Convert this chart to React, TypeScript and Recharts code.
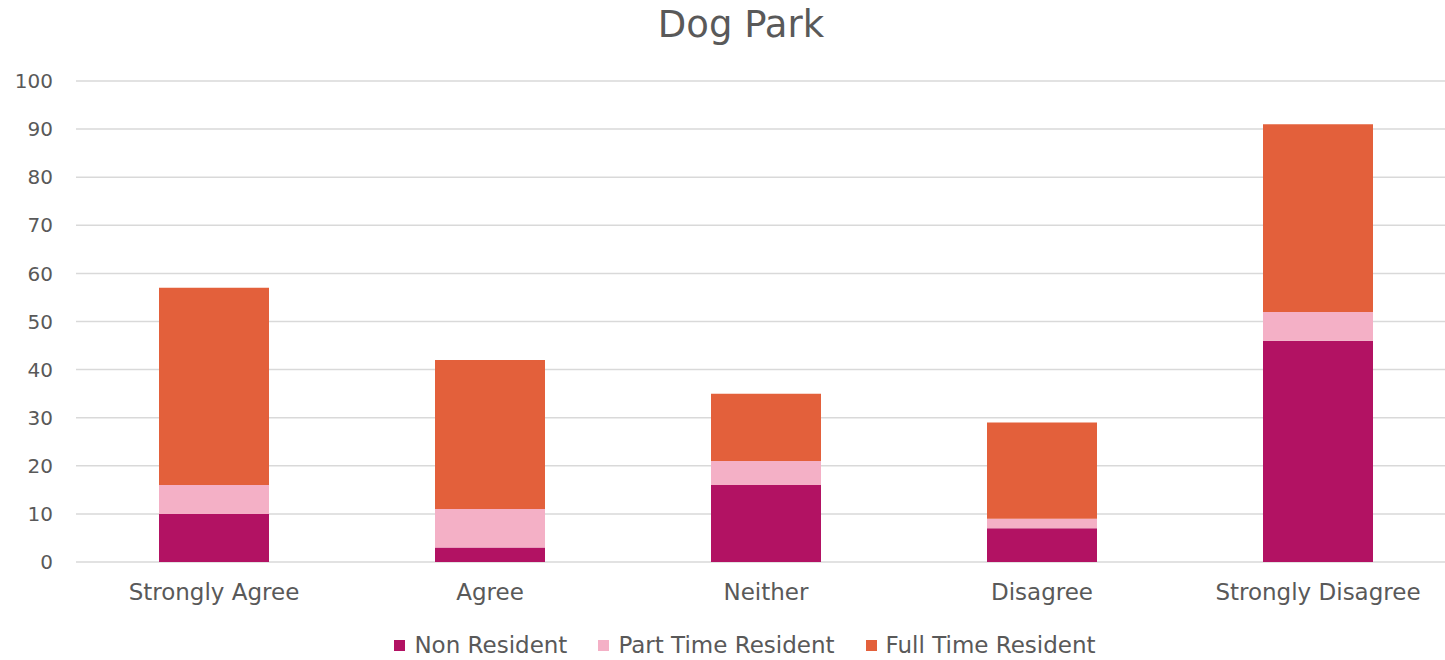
import { BarChart, Bar, XAxis, YAxis, CartesianGrid, Legend } from "recharts";

const categories = ["Strongly Agree", "Agree", "Neither", "Disagree", "Strongly Disagree"];
const nonResident = [10, 3, 16, 7, 46];
const partTime = [6, 8, 5, 2, 6];
const fullTime = [41, 31, 14, 20, 39];
const yTicks = [0, 10, 20, 30, 40, 50, 60, 70, 80, 90, 100];

const series = [
  { key: "nonResident", name: "Non Resident", color: "#B21263" },
  { key: "partTime", name: "Part Time Resident", color: "#F4B0C6" },
  { key: "fullTime", name: "Full Time Resident", color: "#E3603B" },
];

const data = categories.map((c, i) => ({
  category: c,
  nonResident: nonResident[i],
  partTime: partTime[i],
  fullTime: fullTime[i],
}));

const FONT = "'DejaVu Sans', sans-serif";
const TEXT = "#595959";

function LegendRow() {
  return (
    <div style={{ display: "flex", justifyContent: "center", gap: 31, fontFamily: FONT, fontSize: 23, color: TEXT, lineHeight: "26px" }}>
      {series.map((s) => (
        <div key={s.key} style={{ display: "flex", alignItems: "center" }}>
          <span style={{ width: 11, height: 11, background: s.color, display: "inline-block", marginRight: 9 }} />
          <span>{s.name}</span>
        </div>
      ))}
    </div>
  );
}

export default function App() {
  return (
    <div style={{ position: "fixed", left: 0, top: 0, width: 1445, height: 660, overflow: "hidden", background: "#fff" }}>
      <div
        style={{
          position: "absolute", top: 3, left: 0, width: 1482, textAlign: "center",
          fontFamily: FONT, fontSize: 37, color: TEXT,
        }}
      >
        Dog Park
      </div>
      <BarChart width={1460} height={660} data={data} margin={{ top: 81, right: 4, left: 16, bottom: 68 }}>
        <CartesianGrid vertical={false} stroke="#D9D9D9" strokeWidth={1.5} />
        <XAxis
          dataKey="category"
          axisLine={false}
          tickLine={false}
          tickSize={0}
          tickMargin={22}
          tick={{ fill: TEXT, fontSize: 23, fontFamily: FONT }}
        />
        <YAxis
          width={60}
          domain={[0, 100]}
          ticks={yTicks}
          axisLine={false}
          tickLine={false}
          tickSize={0}
          tickMargin={23}
          tick={{ fill: TEXT, fontSize: 20, fontFamily: FONT }}
        />
        <Legend
          layout="horizontal"
          verticalAlign="middle"
          align="center"
          wrapperStyle={{ top: 632, left: 0, width: 1490 }}
          content={() => <LegendRow />}
        />
        {series.map((s) => (
          <Bar key={s.key} dataKey={s.key} name={s.name} stackId="a" fill={s.color} barSize={110} isAnimationActive={false} />
        ))}
      </BarChart>
    </div>
  );
}
